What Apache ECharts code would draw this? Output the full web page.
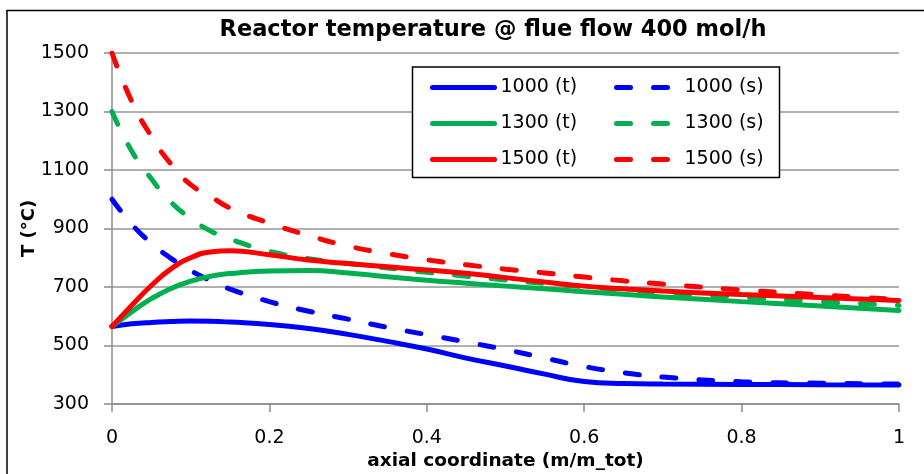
<!DOCTYPE html>
<html>
<head>
<meta charset="utf-8">
<script src="https://cdn.jsdelivr.net/npm/echarts@6/dist/echarts.min.js"></script>
<style>
  html, body { margin: 0; padding: 0; background: #fff; }
  #chart { width: 924px; height: 474px; }
</style>
</head>
<body>
<div id="chart"></div>
<script>
// axial coordinate samples (m/m_tot)
const xs = [0, 0.025, 0.05, 0.075, 0.1, 0.125, 0.15, 0.2, 0.25, 0.3, 0.35, 0.4, 0.45, 0.5, 0.55, 0.6, 0.65, 0.7, 0.8, 0.9, 1];

// temperatures (°C)
const t1000 = [565, 574, 579, 582, 584, 583, 580, 572, 558, 538, 514, 488, 457, 430, 402, 377, 370, 368, 367, 366, 365];
const s1000 = [1000, 915, 850, 798, 756, 722, 693, 650, 617, 590, 562, 537, 512, 486, 457, 428, 407, 392, 376, 371, 368];
const t1300 = [565, 615, 660, 695, 720, 737, 746, 755, 756, 748, 735, 723, 713, 703, 694, 684, 675, 666, 650, 635, 620];
const s1300 = [1300, 1165, 1070, 990, 935, 892, 864, 822, 797, 780, 765, 750, 737, 724, 712, 701, 690, 681, 665, 650, 637];
const t1500 = [565, 637, 705, 762, 800, 820, 824, 810, 792, 780, 769, 758, 747, 732, 717, 703, 694, 686, 674, 664, 654];
const s1500 = [1500, 1335, 1215, 1120, 1050, 1010, 970, 918, 876, 840, 814, 793, 776, 761, 748, 734, 721, 710, 690, 673, 657];

const seriesNames = ['1000 (t)', '1000 (s)', '1300 (t)', '1300 (s)', '1500 (t)', '1500 (s)'];
const seriesValues = [t1000, s1000, t1300, s1300, t1500, s1500];
const seriesColors = ['#0000ff', '#0000ff', '#00b050', '#00b050', '#ff0000', '#ff0000'];

const font = 'DejaVu Sans';
const chart = echarts.init(document.getElementById('chart'));

const series = seriesNames.map((name, i) => {
    const dashed = name.indexOf('(s)') >= 0;
    return {
        name: name,
        type: 'line',
        data: xs.map((x, k) => [x, seriesValues[i][k]]),
        smooth: 0.5,
        symbol: 'none',
        showSymbol: false,
        color: seriesColors[i],
        lineStyle: {
            color: seriesColors[i],
            width: 5,
            type: dashed ? [14, 23] : 'solid',
            cap: 'round'
        },
        z: 2 + i * 0.01
    };
});

// legend look shared by both legend columns
const legendBase = {
    orient: 'vertical',
    top: 73,
    itemHeight: 20,
    itemGap: 17,
    itemStyle: { opacity: 0 },
    lineStyle: { width: 5, cap: 'round' },
    z: 5
};

const option = {
    animation: false,
    title: {
        text: 'Reactor temperature @ flue flow 400 mol/h',
        left: 488,
        top: 14,
        textAlign: 'center',
        textStyle: { fontFamily: font, fontSize: 22.5, fontWeight: 'bold', color: '#000' }
    },
    legend: [
        Object.assign({}, legendBase, {
            data: ['1000 (t)', '1300 (t)', '1500 (t)'],
            left: 425,
            itemWidth: 62,
            textStyle: { fontFamily: font, fontSize: 19, color: '#000', padding: [0, 0, 0, 1] }
        }),
        Object.assign({}, legendBase, {
            data: ['1000 (s)', '1300 (s)', '1500 (s)'],
            left: 609,
            itemWidth: 53,
            textStyle: { fontFamily: font, fontSize: 19, color: '#000', padding: [0, 0, 0, 10] }
        })
    ],
    graphic: [
        {
            type: 'rect',
            shape: { x: 7, y: 10.5, width: 940, height: 480 },
            style: { fill: 'none', stroke: '#000', lineWidth: 1.5 },
            silent: true,
            z: 1
        },
        {
            type: 'rect',
            shape: { x: 412.5, y: 67, width: 367, height: 110.5 },
            style: { fill: '#fff', stroke: '#000', lineWidth: 1.5 },
            silent: true,
            z: 3
        }
    ],
    grid: {
        left: 112,
        right: 25,
        top: 53,
        bottom: 70,
        outerBoundsMode: 'none'
    },
    xAxis: {
        type: 'value',
        min: 0,
        max: 1,
        interval: 0.2,
        name: 'axial coordinate (m/m_tot)',
        nameLocation: 'middle',
        nameGap: 48,
        nameMoveOverlap: false,
        nameTextStyle: { fontFamily: font, fontSize: 18.5, fontWeight: 'bold', color: '#000' },
        axisLine: { show: true, lineStyle: { color: '#8c8c8c', width: 1.5 } },
        axisTick: { show: true, length: 8, lineStyle: { color: '#8c8c8c', width: 1.5 } },
        axisLabel: { fontFamily: font, fontSize: 19, color: '#000', margin: 25 },
        splitLine: { show: false }
    },
    yAxis: {
        type: 'value',
        min: 300,
        max: 1500,
        interval: 200,
        name: 'T (°C)',
        nameLocation: 'middle',
        nameRotate: 90,
        nameGap: 74,
        nameMoveOverlap: false,
        nameTextStyle: { fontFamily: font, fontSize: 18, fontWeight: 'bold', color: '#000' },
        axisLine: { show: true, lineStyle: { color: '#8c8c8c', width: 1.5 } },
        axisTick: { show: true, length: 8, lineStyle: { color: '#8c8c8c', width: 1.5 } },
        axisLabel: {
            fontFamily: font, fontSize: 19, color: '#000', margin: 23,
            formatter: function (v) { return String(v); }
        },
        splitLine: { show: true, lineStyle: { color: '#969696', width: 1.5 } }
    },
    series: series
};

chart.setOption(option);
</script>
</body>
</html>
